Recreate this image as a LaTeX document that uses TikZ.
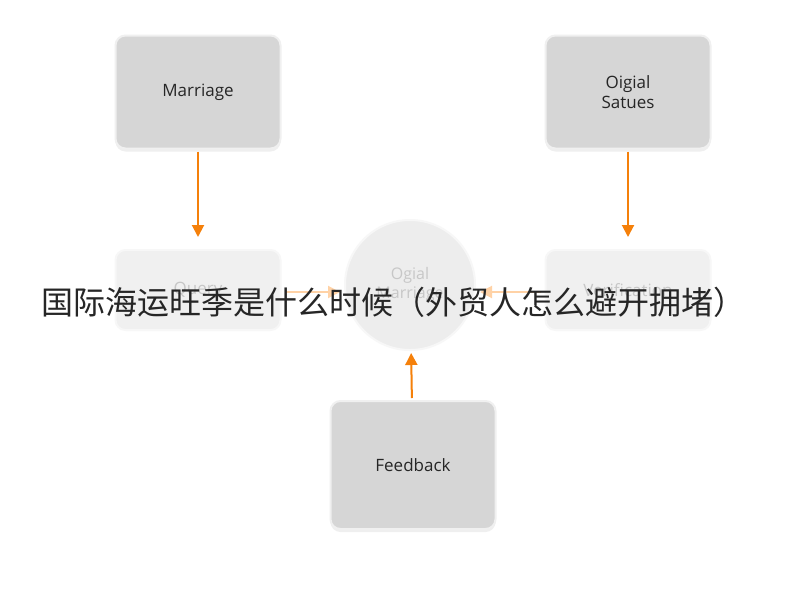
\documentclass[tikz,border=0pt]{standalone}
\usepackage{fontspec}
\setmainfont{Open Sans}
\newfontfamily\cjk{Noto Sans CJK SC}
\usetikzlibrary{arrows.meta, shadows}
\tikzstyle{block} = [rectangle, rounded corners=10pt, minimum width=165pt, minimum height=113pt, text centered, align=center, fill=black!16, draw=black!6, line width=2pt, drop shadow={fill=black!12, shadow xshift=0pt, shadow yshift=-3pt}, font=\fontsize{17}{20}\selectfont, text=black!85]
\tikzstyle{faded} = [rectangle, rounded corners=10pt, minimum width=165pt, minimum height=80pt, text centered, fill=black!6, draw=black!3, line width=2pt, font=\fontsize{17}{20}\selectfont, text=black!22]
\tikzstyle{arrow} = [line width=2pt, draw=orange!85!brown, -{Triangle[length=12pt, width=12pt]}, color=orange!85!brown, shorten >=12pt, shorten <=2pt]
\tikzstyle{fadearrow} = [arrow, draw=orange!35, color=orange!35, shorten >=4pt, shorten <=4pt]
\begin{document}
\begin{tikzpicture}[x=1pt, y=-1pt]
\useasboundingbox[fill=white] (0,0) rectangle (800,600);
\node (marriage) [block] at (198,92) {Marriage};
\node (status) [block] at (628,92) {Oigial\\Satues};
\node (query) [faded] at (198,290) {Query};
\node (verif) [faded] at (628,290) {Verification};
\node (center) [circle, minimum size=130pt, fill=black!7, draw=black!3, line width=2pt, font=\fontsize{16}{19}\selectfont, text=black!22, align=center] at (410,285) {Ogial\\Marriage};
\node (feedback) [block, minimum height=128pt] at (413,465) {Feedback};
\draw [arrow] (marriage) -- (query);
\draw [arrow] (status) -- (verif);
\draw [fadearrow] (query.east |- 0,292) -- (center.west |- 0,292);
\draw [fadearrow] (verif.west |- 0,292) -- (center.east |- 0,292);
\draw [arrow, shorten >=2pt] (feedback) -- (center);
\node (title) [font=\cjk\fontsize{32}{36}\selectfont, text=black!85] at (393,302) {国际海运旺季是什么时候（外贸人怎么避开拥堵）};
\end{tikzpicture}
\end{document}
